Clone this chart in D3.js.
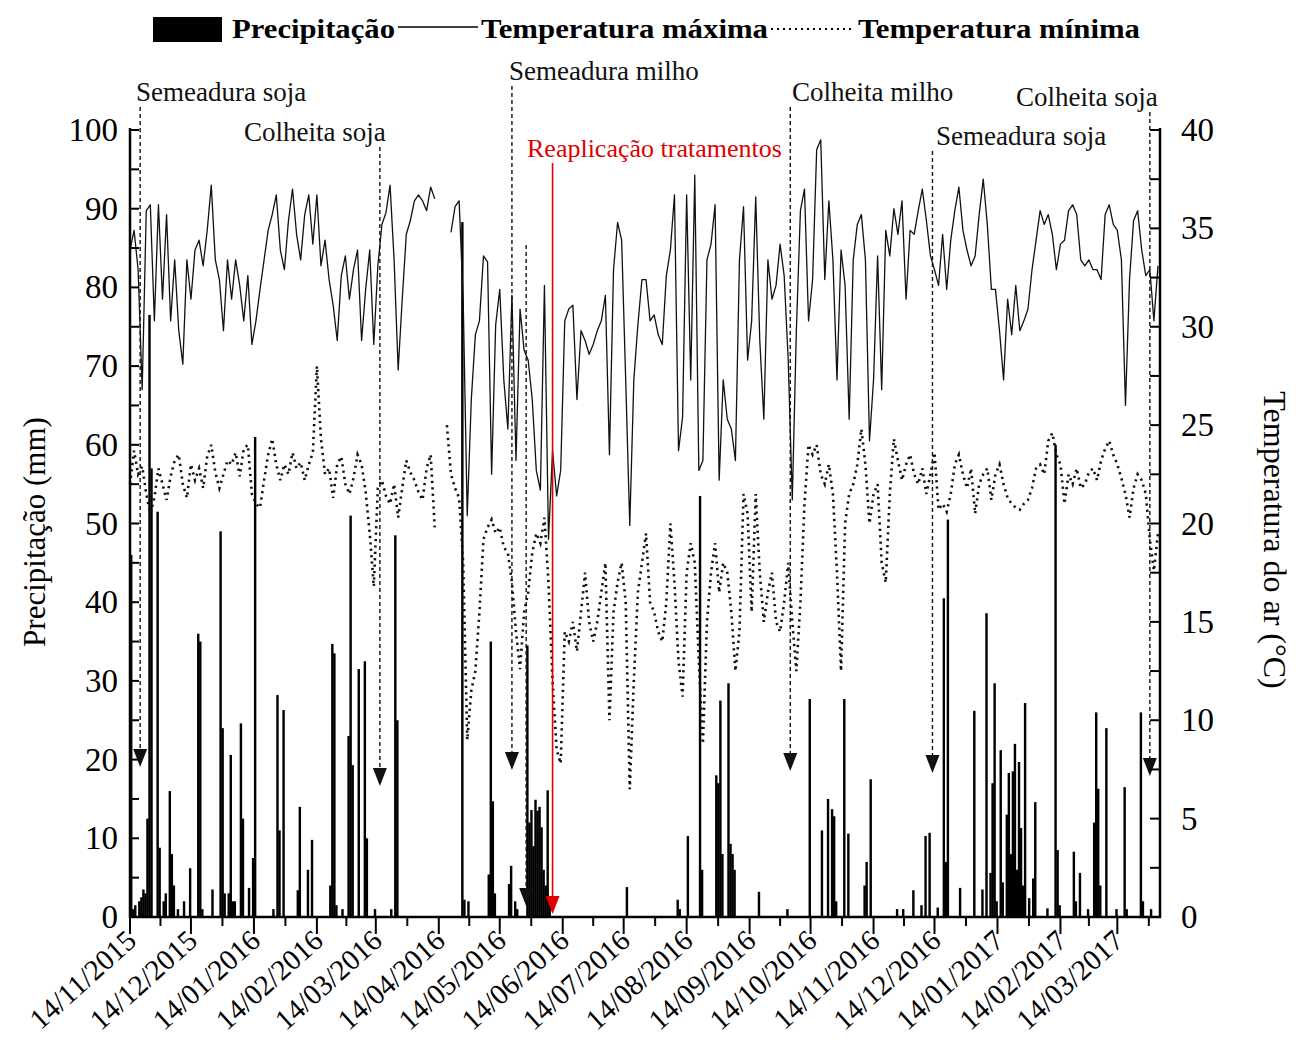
<!DOCTYPE html>
<html><head><meta charset="utf-8">
<script src="https://cdn.jsdelivr.net/npm/d3@7"></script>
<style>body{margin:0;background:#fff}svg{display:block}</style>
</head><body>
<svg id="c" width="1305" height="1044"></svg>
<script>
// ---------------- DATA ----------------
const startDate = "2015-11-14";
const endDate = "2017-04-04";
const stepDays = 2; // temperature readings every 2 days from startDate
const tmaxValues = [
33.9,34.9,32.9,26.8,35.9,36.2,30.3,36.2,31.4,35.7,30.3,33.4,29.8,28.1,33.4,31.4,33.9,34.4,33.1,34.9,37.2,33.4,32.4,29.8,33.4,31.4,33.4,32.1,30.3,32.6,29.1,
30.3,31.9,33.4,34.9,35.7,36.7,33.9,32.9,35.4,37.0,34.7,33.4,35.7,36.7,34.2,36.7,33.1,34.4,32.4,31.1,29.3,32.6,33.6,31.4,32.9,33.9,29.3,31.9,33.9,29.1,33.1,35.2,
35.8,37.2,33.4,27.8,31.4,34.7,35.4,36.4,36.7,36.4,35.9,37.1,36.5,
null,null,null,
34.8,36.1,36.4,31.4,20.4,26.3,29.6,30.3,33.6,33.3,22.5,30.1,31.9,27.3,24.8,31.6,23.2,30.9,
28.8,28.3,26.3,22.7,21.7,32.1,19.2,23.7,21.4,22.7,30.3,30.9,31.1,26.3,29.8,29.3,28.6,29.1,29.8,30.3,31.6,23.5,32.9,35.3,34.4,27.3,19.9,27.3,30.1,32.4,32.4,
30.3,30.6,29.6,29.1,32.6,33.9,36.7,23.7,25.4,36.7,27.3,37.7,22.7,23.2,33.4,34.2,36.2,22.2,27.3,25.3,24.8,23.2,33.4,36.1,28.3,30.3,36.6,29.3,25.3,33.4,31.4,32.1,
34.2,32.6,28.3,21.2,29.8,35.9,37.0,30.3,32.4,39.0,39.5,32.4,36.4,33.4,27.3,33.9,32.1,25.3,33.4,35.2,35.7,33.4,24.2,27.3,33.6,26.8,34.9,33.6,36.0,34.7,36.4,31.4,
34.9,34.7,35.9,37.0,35.4,33.6,32.9,32.1,34.7,31.9,34.4,35.9,37.1,34.9,33.9,33.1,33.6,35.7,37.5,35.2,31.9,31.9,29.8,27.3,31.4,29.6,32.1,29.8,30.3,30.9,32.9,34.4,
35.9,35.2,35.7,34.7,32.9,34.2,34.4,35.9,36.2,35.7,33.4,33.1,33.4,32.9,32.9,32.4,35.7,36.2,35.2,34.9,33.4,26.0,32.4,35.4,35.9,33.9,32.6,32.9,30.3,33.1
];
const tminValues = [
22.0,23.7,22.5,22.9,21.5,20.5,21.3,22.8,22.0,21.2,22.4,23.2,23.5,22.0,21.3,23.0,22.2,22.8,21.8,23.4,24.0,22.6,21.8,22.5,23.2,23.0,23.6,22.4,23.8,24.0,21.5,
21.0,20.8,22.2,23.5,24.3,23.0,22.2,23.0,22.5,23.6,22.8,23.1,22.2,23.0,23.6,28.0,24.3,22.5,22.8,21.3,23.0,23.4,22.0,21.5,22.3,23.5,23.0,21.6,19.5,16.8,21.8,22.2,
21.4,21.0,22.0,20.3,21.8,23.2,22.6,22.2,21.6,21.2,22.8,23.5,19.8,
null,null,
25.0,22.5,21.8,21.3,18.0,9.0,11.5,12.5,15.5,19.2,19.8,20.2,19.5,19.8,18.8,18.5,17.0,14.5,
12.6,15.5,16.5,18.5,19.5,19.0,20.3,17.0,12.0,8.5,7.8,14.5,14.0,15.0,13.5,15.5,17.5,15.0,14.0,15.0,16.5,18.0,10.0,15.5,17.0,18.0,16.0,6.5,12.0,16.5,18.0,19.5,
16.0,15.5,14.5,14.0,16.0,20.0,17.0,13.0,11.2,17.5,19.0,18.0,13.0,8.8,15.0,17.5,19.0,16.5,18.0,17.5,15.5,12.5,14.5,21.5,20.5,15.5,21.5,17.5,15.0,16.5,17.5,15.0,
14.5,16.0,18.0,15.0,12.5,16.0,21.0,24.0,23.5,24.0,22.5,22.0,23.0,21.5,17.5,12.5,20.0,21.5,22.0,23.0,24.8,23.0,20.0,21.5,22.0,18.0,17.0,21.5,24.3,23.2,22.2,23.0,
23.5,22.5,22.0,22.8,21.5,22.5,23.6,20.7,21.0,20.6,21.5,23.0,23.5,22.5,21.8,22.8,20.5,22.0,22.5,22.8,21.2,22.5,23.0,22.0,21.3,21.0,20.8,20.7,21.0,21.2,21.8,22.8,
23.0,22.5,24.2,24.6,23.5,23.0,21.0,22.5,22.0,22.8,21.8,22.0,22.6,22.8,22.2,23.2,23.8,24.2,23.5,23.0,22.3,21.5,20.3,21.8,22.5,22.2,21.5,19.2,17.6,19.5
];
// precipitation: day offset from startDate, and mm
const precipDays = [0,1,2,4,5,6,7,8,9,10,13,14,16,17,19,20,21,23,26,29,33,34,35,40,44,45,46,48,49,50,51,54,55,58,60,61,
70,72,73,75,82,83,87,89,98,99,100,101,104,107,108,109,112,115,116,120,128,130,131,
163,164,166,176,177,178,179,186,187,189,190,195,196,197,198,199,200,201,202,203,204,205,206,
244,269,270,274,280,281,288,289,290,291,294,295,296,297,309,323,334,340,343,345,346,347,351,353,361,362,364,
377,380,385,389,391,393,397,400,401,402,408,415,419,421,423,424,425,426,428,429,431,432,433,434,435,436,437,438,439,440,442,444,445,
451,455,456,457,464,465,467,471,474,475,476,477,480,485,489,490,497,498,502];
const precipValues = [46,1,1.5,2,2.5,3.5,3,12.5,76.5,57,51.5,8.8,2,3,16,8,4,1,2,6.2,36,35,1,3.5,49,24,3,3,20.6,2,2,24.6,12.5,3.7,7.5,61,
1,28.2,11,26.3,3.4,14,6,9.8,4,34.7,33.5,1.5,1,23,51,19.3,31.5,32.5,10,1,1,48.5,25,
88.3,2.2,2,5.4,35,14.7,3,4.2,6.5,2,1,34.5,12,13.6,9,14.9,13.5,14,11.4,6,4,16.1,2,
3.8,2.2,1,10.3,53.5,6,18,17,27.5,8,29.7,9.3,8,6,3.2,1,27.7,11,15,13.7,12.8,2,27.7,10.6,4,7,17.5,
1,1,3.4,1.5,10.3,10.7,1.2,40.5,7,50.5,3.7,26.2,3.5,38.6,5.6,17,29.7,2,21.2,4.4,13,18.3,8,18.5,22,6,19.7,11.3,4,27.2,2.4,4.9,14.6,
1.1,60,8.5,1.5,8.3,2,5.6,1,12,26,16.3,4,24,1,16.5,1,26,2,1];
const xTickLabels = ["14/11/2015","14/12/2015","14/01/2016","14/02/2016","14/03/2016","14/04/2016","14/05/2016","14/06/2016","14/07/2016","14/08/2016","14/09/2016","14/10/2016","14/11/2016","14/12/2016","14/01/2017","14/02/2017","14/03/2017"];
const precipTicks = [0,10,20,30,40,50,60,70,80,90,100];
const tempTicks = [0,5,10,15,20,25,30,35,40];
const eventNames = ["Semeadura soja","Colheita soja","Semeadura milho","","Reaplicação tratamentos","Colheita milho","Semeadura soja","Colheita soja"];
const eventDays = [5,123,188,195,208,325,395,502];
const legendLabels = ["Precipitação","Temperatura máxima","Temperatura mínima"];

// ---------------- DRAWING ----------------
const svg = d3.select("#c");
const FONT = "'Liberation Serif','Times New Roman',serif";
const L = 130, R = 1160, T = 130, B = 917;
const parse = d3.utcParse("%Y-%m-%d");
const d0 = parse(startDate), d1 = parse(endDate);
const x = d3.scaleUtc().domain([d0, d1]).range([L, R]);
const yP = d3.scaleLinear().domain([0, 100]).range([B, T]);
const yT = d3.scaleLinear().domain([0, 40]).range([B, T]);
const dayX = d => x(d3.utcDay.offset(d0, d));

// precipitation bars
const bw = dayX(1) - dayX(0) + 0.4;
svg.append("g").selectAll("rect").data(precipDays.map((d,i)=>({d, v:precipValues[i]})))
  .join("rect")
  .attr("x", p => dayX(p.d)).attr("width", bw)
  .attr("y", p => yP(p.v)).attr("height", p => B - yP(p.v))
  .attr("fill", "#000");

// temperature lines
const tData = arr => arr.map((v,i)=>({date: d3.utcDay.offset(d0, i*stepDays), v}));
const line = d3.line().defined(p => p.v !== null).x(p => x(p.date)).y(p => yT(p.v));
svg.append("path").datum(tData(tmaxValues)).attr("d", line)
  .attr("fill","none").attr("stroke","#111").attr("stroke-width",1.3).attr("stroke-linejoin","round");
svg.append("path").datum(tData(tminValues)).attr("d", line)
  .attr("fill","none").attr("stroke","#111").attr("stroke-width",2.6)
  .attr("stroke-dasharray","2.2,4.2").attr("stroke-linecap","butt");

// event arrows
const evLayout = [
  {tx:136, ty:101, y1:107, y2:767, fs:27},
  {tx:244, ty:141, y1:147, y2:786, fs:27},
  {tx:509, ty:80,  y1:86,  y2:770, fs:27},
  {tx:0,   ty:0,   y1:245, y2:906, fs:27},
  {tx:527, ty:157, y1:163, y2:914, fs:26},
  {tx:792, ty:101, y1:107, y2:771, fs:27},
  {tx:936, ty:145, y1:151, y2:773, fs:27},
  {tx:1016,ty:106, y1:112, y2:776, fs:27}
];
eventNames.forEach((name,i) => {
  const ex = dayX(eventDays[i]);
  const lay = evLayout[i];
  const red = name.startsWith("Reaplica");
  const col = red ? "#e00000" : "#111";
  svg.append("line").attr("x1",ex).attr("x2",ex).attr("y1",lay.y1).attr("y2",lay.y2-16)
    .attr("stroke",col).attr("stroke-width", red?1.6:1.4)
    .attr("stroke-dasharray", red ? null : "4,3");
  svg.append("path").attr("d",`M${ex-7},${lay.y2-18}L${ex+7},${lay.y2-18}L${ex},${lay.y2}Z`).attr("fill",col);
  if (name) svg.append("text").attr("x",lay.tx).attr("y",lay.ty).text(name)
    .attr("font-family",FONT).attr("font-size",lay.fs).attr("fill",col);
});

// axes lines
const ax = svg.append("g").attr("stroke","#000").attr("stroke-width",2.5);
ax.append("line").attr("x1",L).attr("x2",L).attr("y1",T-2).attr("y2",B+1);
ax.append("line").attr("x1",R).attr("x2",R).attr("y1",T-2).attr("y2",B+1);
ax.append("line").attr("x1",L-1).attr("x2",R+1).attr("y1",B).attr("y2",B);

// left ticks (inward) every 5 mm
d3.range(0,101,5).forEach(v => {
  ax.append("line").attr("x1",L).attr("x2",L+9).attr("y1",yP(v)).attr("y2",yP(v)).attr("stroke-width",2);
});
svg.append("g").selectAll("text").data(precipTicks).join("text")
  .attr("x",L-12).attr("y",v=>yP(v)+11).attr("text-anchor","end").text(v=>v)
  .attr("font-family",FONT).attr("font-size",33);
// right ticks (inward) every 2.5 °C
d3.range(0,40.1,2.5).forEach(v => {
  ax.append("line").attr("x1",R).attr("x2",R-10).attr("y1",yT(v)).attr("y2",yT(v)).attr("stroke-width",2);
});
svg.append("g").selectAll("text").data(tempTicks).join("text")
  .attr("x",R+21).attr("y",v=>yT(v)+11).attr("text-anchor","start").text(v=>v)
  .attr("font-family",FONT).attr("font-size",33);

// bottom ticks
const tickDates = xTickLabels.map(s => { const [dd,mm,yy] = s.split("/").map(Number); return new Date(Date.UTC(yy,mm-1,dd)); });
tickDates.forEach((td,i) => {
  const tx = x(td);
  ax.append("line").attr("x1",tx).attr("x2",tx).attr("y1",B).attr("y2",B+17).attr("stroke-width",2);
  const next = i < tickDates.length-1 ? tickDates[i+1] : d3.utcMonth.offset(td,1);
  const mx = (tx + x(next))/2;
  if (mx < R-2) ax.append("line").attr("x1",mx).attr("x2",mx).attr("y1",B).attr("y2",B+9).attr("stroke-width",2);
  svg.append("text").attr("transform",`translate(${tx+8},${B+26}) rotate(-42)`)
    .attr("text-anchor","end").text(xTickLabels[i])
    .attr("font-family",FONT).attr("font-size",29);
});

// axis titles
svg.append("text").attr("transform",`translate(45,532) rotate(-90)`).attr("text-anchor","middle")
  .text("Precipitação (mm)").attr("font-family",FONT).attr("font-size",31);
svg.append("text").attr("transform",`translate(1264,540) rotate(90)`).attr("text-anchor","middle")
  .text("Temperatura do ar (°C)").attr("font-family",FONT).attr("font-size",32);

// legend
const lg = svg.append("g").attr("font-family",FONT).attr("font-size",28).attr("font-weight","bold");
lg.append("rect").attr("x",153).attr("y",17).attr("width",69).attr("height",25).attr("fill","#000");
lg.append("text").attr("x",232).attr("y",38).text(legendLabels[0]).attr("textLength",163).attr("lengthAdjust","spacingAndGlyphs");
lg.append("line").attr("x1",398).attr("x2",478).attr("y1",27).attr("y2",27).attr("stroke","#000").attr("stroke-width",1.3);
lg.append("text").attr("x",481).attr("y",38).text(legendLabels[1]).attr("textLength",287).attr("lengthAdjust","spacingAndGlyphs");
lg.append("line").attr("x1",771).attr("x2",855).attr("y1",29).attr("y2",29).attr("stroke","#000").attr("stroke-width",2.2).attr("stroke-dasharray","2,4");
lg.append("text").attr("x",858).attr("y",38).text(legendLabels[2]).attr("textLength",282).attr("lengthAdjust","spacingAndGlyphs");
</script>
</body></html>
